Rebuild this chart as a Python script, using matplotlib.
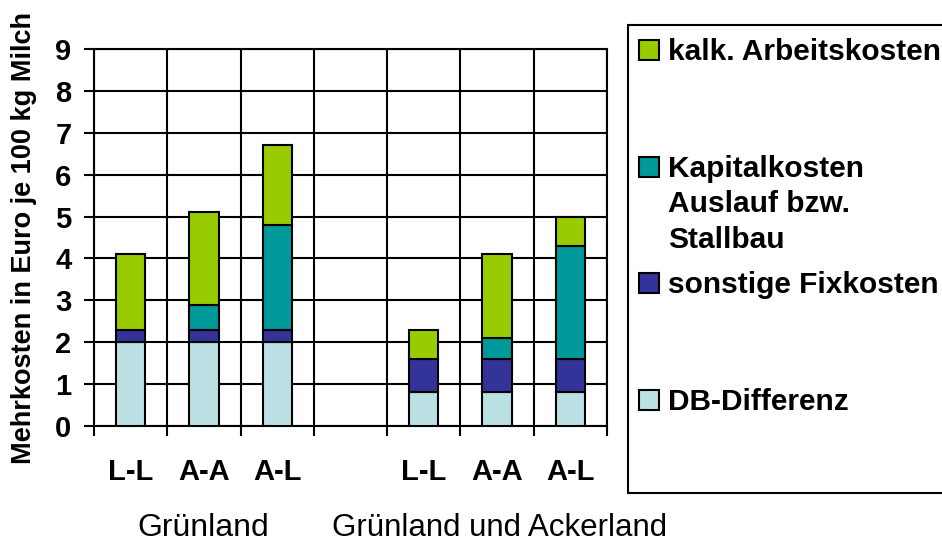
import numpy as np
import matplotlib
matplotlib.use("Agg")
import matplotlib.pyplot as plt
from matplotlib.patches import Rectangle

plt.rcParams['font.family'] = ['Liberation Sans', 'DejaVu Sans']

categories = ["L-L", "A-A", "A-L", "", "L-L", "A-A", "A-L"]
groups = ["Grünland", "Grünland und Ackerland"]
db_diff = [2.0, 2.0, 2.0, 0, 0.8, 0.8, 0.8]
sonst_fix = [0.3, 0.3, 0.3, 0, 0.8, 0.8, 0.8]
kapital = [0.0, 0.6, 2.5, 0, 0.0, 0.5, 2.7]
arbeit = [1.8, 2.2, 1.9, 0, 0.7, 2.0, 0.7]

series = [("DB-Differenz", db_diff, "#BBE0E3"),
          ("sonstige Fixkosten", sonst_fix, "#333399"),
          ("Kapitalkosten\nAuslauf bzw.\nStallbau", kapital, "#009999"),
          ("kalk. Arbeitskosten", arbeit, "#99CC00")]

W, H = 942, 547
fig = plt.figure(figsize=(W / 100, H / 100), dpi=100)
ax = fig.add_axes([94 / W, 1 - 426 / H, (607 - 94) / W, (426 - 49) / H])

x = np.arange(len(categories))
bottom = np.zeros(len(categories))
for name, vals, col in series:
    v = np.array(vals)
    mask = v > 0
    ax.bar(x[mask], v[mask], width=0.4, bottom=bottom[mask], color=col,
           edgecolor="black", linewidth=1.5, zorder=3)
    bottom += v

ax.set_xlim(-0.5, 6.5)
ax.set_ylim(0, 9)
ax.set_yticks(range(10))
ax.set_xticks(x)
ax.set_xticklabels(categories, fontsize=21, fontweight="bold")
ax.set_xticks(np.arange(-0.5, 7, 1), minor=True)
ax.tick_params(axis="x", which="major", length=0, pad=23)
ax.tick_params(axis="x", which="minor", length=7.2, width=1.5, color="black")
ax.tick_params(axis="y", length=7.2, width=1.5, pad=9, labelsize=21)
for lab in ax.get_yticklabels():
    lab.set_fontweight("bold")
ax.grid(True, axis="y", color="black", linewidth=1.5, zorder=0)
ax.grid(True, axis="x", which="minor", color="black", linewidth=1.5, zorder=0)
for s in ax.spines.values():
    s.set_linewidth(1.5)

fig.text(24 / W, 1 - 238 / H, "Mehrkosten in Euro je 100 kg Milch", rotation=90,
         ha="center", va="center", fontsize=19.5, fontweight="bold")

fig.text(203 / W, 1 - 528 / H, groups[0], ha="center", va="center", fontsize=23)
fig.text(500 / W, 1 - 528 / H, groups[1], ha="center", va="center", fontsize=22.5)

# legend box (entries spaced like the original Excel legend)
fig.patches.append(Rectangle((628 / W, 1 - 493 / H), 1.0, (493 - 25) / H,
                             transform=fig.transFigure, facecolor="white",
                             edgecolor="black", linewidth=1.5))
leg_base = {"kalk. Arbeitskosten": 60, "Kapitalkosten\nAuslauf bzw.\nStallbau": 177,
            "sonstige Fixkosten": 293, "DB-Differenz": 410}
for name, vals, col in series:
    yb = leg_base[name]
    fig.patches.append(Rectangle((639 / W, 1 - yb / H), 20 / W, 20 / H,
                                 transform=fig.transFigure, facecolor=col,
                                 edgecolor="black", linewidth=1.5))
    for i, line in enumerate(name.split("\n")):
        fig.text(668 / W, 1 - (yb + i * 35.5) / H, line, ha="left", va="baseline",
                 fontsize=21.5, fontweight="bold")

fig.savefig("out.png", dpi=100)
